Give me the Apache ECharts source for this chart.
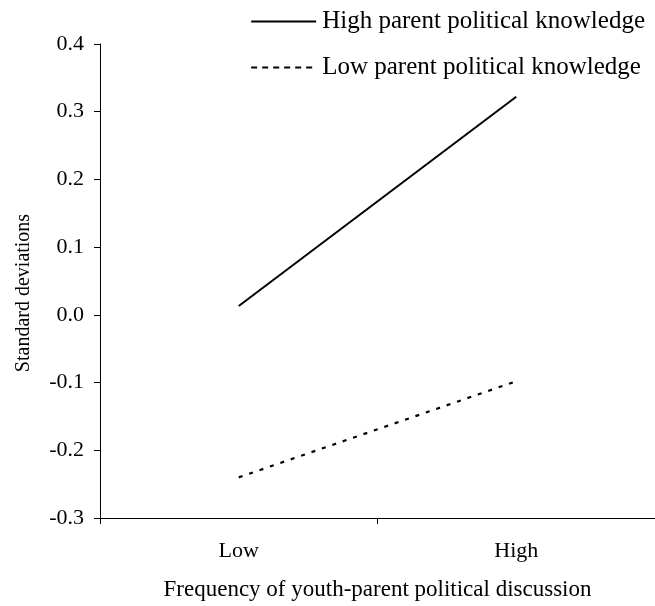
<!DOCTYPE html>
<html><head><meta charset="utf-8">
<script src="https://cdn.jsdelivr.net/npm/echarts@6/dist/echarts.min.js"></script>
<style>html,body{margin:0;padding:0;background:#fff}#c{width:655px;height:606px}</style>
</head><body><div id="c"></div>
<script>
const categories = ['Low', 'High'];
const highKnowledge = [0.013, 0.322];
const lowKnowledge = [-0.24, -0.098];
const seriesNames = ['High parent political knowledge', 'Low parent political knowledge'];
const yTicks = {min: -0.3, max: 0.4, interval: 0.1};

const font = 'Liberation Serif';
const chart = echarts.init(document.getElementById('c'));
chart.setOption({
  backgroundColor: '#fff',
  animation: false,
  textStyle: {fontFamily: font, color: '#000'},
  grid: {left: 100, right: -3, top: 44, bottom: 88},
  legend: {
    orient: 'vertical', right: 5, top: 4, itemGap: 21,
    itemWidth: 65, itemHeight: 28,
    itemStyle: {opacity: 0},
    textStyle: {fontFamily: font, fontSize: 25, color: '#000', padding: [0, 0, 0, 1]},
    data: [
      {name: seriesNames[0]},
      {name: seriesNames[1], lineStyle: {type: [6, 5], width: 2.2}}
    ]
  },
  xAxis: {
    type: 'category', data: categories, boundaryGap: true,
    name: 'Frequency of youth-parent political discussion', nameLocation: 'middle', nameGap: 60,
    nameTextStyle: {fontFamily: font, fontSize: 23, color: '#000'},
    axisLine: {onZero: false, lineStyle: {color: '#000', width: 1}},
    axisTick: {show: true, length: 6, lineStyle: {color: '#000'}},
    axisLabel: {fontFamily: font, fontSize: 22, color: '#000', margin: 22},
    splitLine: {show: false}
  },
  yAxis: {
    type: 'value', min: yTicks.min, max: yTicks.max, interval: yTicks.interval,
    name: 'Standard deviations', nameLocation: 'middle', nameGap: 66, nameRotate: 90,
    nameTextStyle: {fontFamily: font, fontSize: 20, color: '#000', padding: [0, 24, 0, 0]},
    axisLine: {show: true, lineStyle: {color: '#000', width: 1}},
    axisTick: {show: true, length: 6, lineStyle: {color: '#000'}},
    axisLabel: {fontFamily: font, fontSize: 22, color: '#000', margin: 16,
      formatter: v => v.toFixed(1)},
    splitLine: {show: false}
  },
  series: [
    {name: seriesNames[0], type: 'line', data: highKnowledge, symbol: 'none',
     lineStyle: {color: '#000', width: 2, type: 'solid'}, itemStyle: {color: '#000'}},
    {name: seriesNames[1], type: 'line', data: lowKnowledge, symbol: 'none',
     lineStyle: {color: '#000', width: 2.2, type: [4, 7]}, itemStyle: {color: '#000'}}
  ]
});
</script></body></html>
